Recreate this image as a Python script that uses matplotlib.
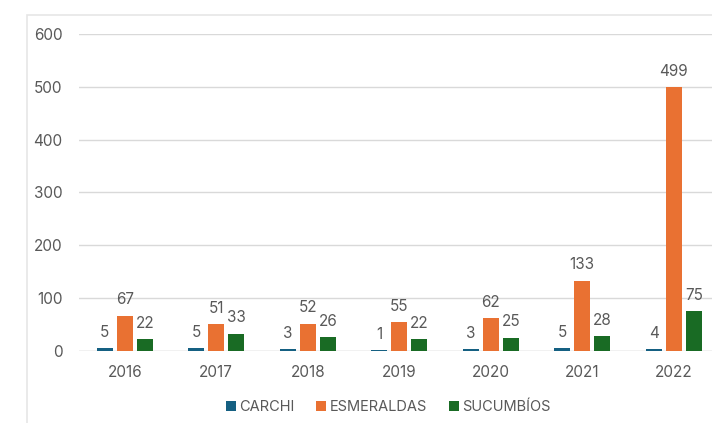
import matplotlib
matplotlib.use("Agg")
import matplotlib.pyplot as plt
import numpy as np
from matplotlib.patches import Rectangle, Patch

years = ["2016", "2017", "2018", "2019", "2020", "2021", "2022"]
carchi = [5, 5, 3, 1, 3, 5, 4]
esmeraldas = [67, 51, 52, 55, 62, 133, 499]
sucumbios = [22, 33, 26, 22, 25, 28, 75]
series_names = ["CARCHI", "ESMERALDAS", "SUCUMBÍOS"]
colors = ["#156082", "#E97132", "#196B24"]
yticks = [0, 100, 200, 300, 400, 500, 600]

plt.rcParams['font.family'] = ['Inter', 'DejaVu Sans']
txt = "#595959"

fig = plt.figure(figsize=(7.12, 4.23), dpi=100)
fig.patch.set_facecolor("white")
# outer chart frame (cropped)
fig.patches.append(Rectangle((27.5/712, -0.1), 1.2, 0.1 + 1 - 15.5/423,
                             transform=fig.transFigure, fill=False,
                             edgecolor="#e6e6e6", linewidth=1.2))

ax = fig.add_axes([79/712, 72/423, 1 - 79/712, (351-34)/423])
x = np.arange(len(years))
w = 0.175
pitch = 0.219
data = [carchi, esmeraldas, sucumbios]
for i, (vals, c) in enumerate(zip(data, colors)):
    pos = x + (i - 1) * pitch
    ax.bar(pos, vals, width=w, color=c, zorder=3)
    for xp, v in zip(pos, vals):
        ax.annotate(str(v), (xp, v), xytext=(0, 6), textcoords="offset points",
                    ha="center", va="bottom", fontsize=11, color=txt)

ax.set_ylim(0, 600)
ax.set_xlim(-0.5, -0.5 + 633/91.5)
ax.set_yticks(yticks)
ax.set_yticklabels([str(t) for t in yticks])
ax.set_xticks(x)
ax.set_xticklabels(years)
ax.tick_params(axis="both", length=0, labelsize=11, labelcolor=txt)
ax.tick_params(axis="y", pad=12)
ax.tick_params(axis="x", pad=10)
ax.grid(axis="y", color="#d9d9d9", linewidth=1, zorder=0)
for s in ax.spines.values():
    s.set_visible(False)
ax.axhline(0, color="#d9d9d9", linewidth=1, zorder=2)

handles = [Patch(facecolor=c, label=n) for c, n in zip(colors, series_names)]
fig.legend(handles=handles, loc="center", bbox_to_anchor=(388/712, 1 - 407/423),
           ncol=3, frameon=False, fontsize=10.5, handlelength=0.7, handleheight=0.7,
           handletextpad=0.2, columnspacing=1.5, labelcolor=txt)

fig.savefig("out.png", dpi=100, facecolor="white")
